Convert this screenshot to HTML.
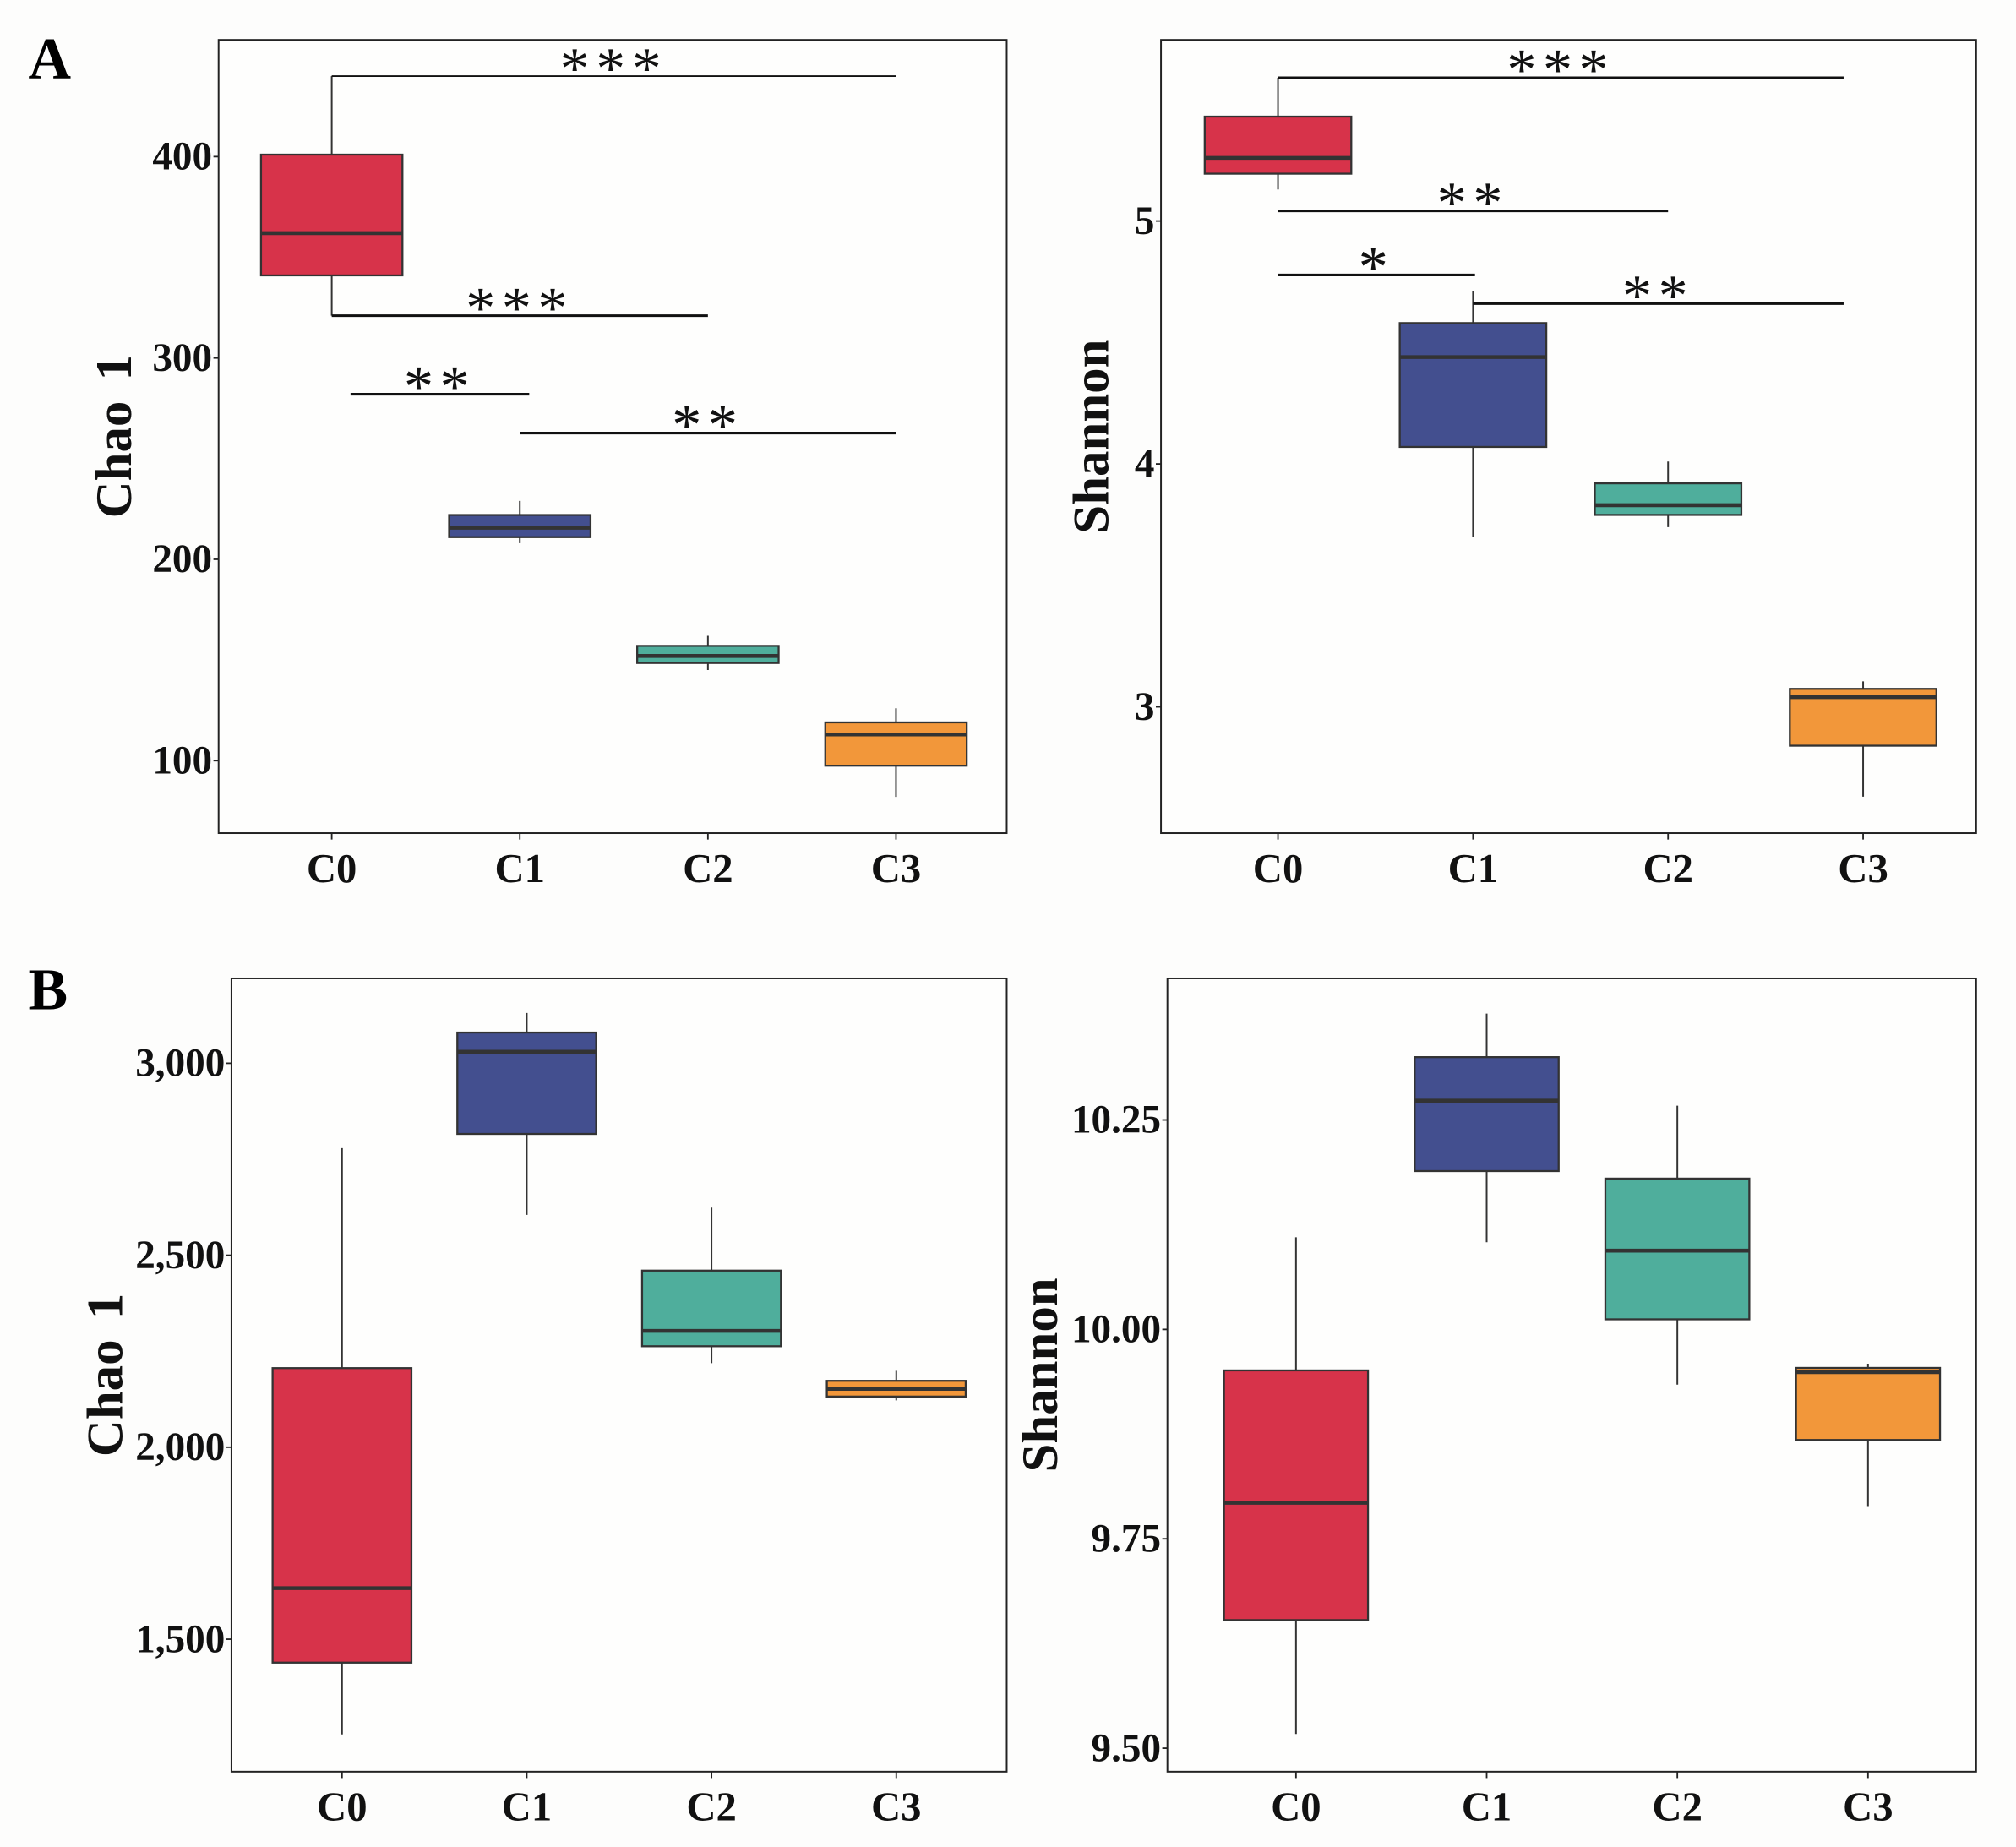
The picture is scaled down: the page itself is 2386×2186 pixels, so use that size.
<!DOCTYPE html>
<html><head><meta charset="utf-8"><style>
html,body{margin:0;padding:0;background:#fdfdfc;}
svg{display:block;font-family:"Liberation Serif",serif;}
</style></head>
<body>
<svg id="fig" width="2386" height="2186" viewBox="0 0 1568 1436.6" xmlns="http://www.w3.org/2000/svg">
<rect width="1568" height="1437" fill="#fdfdfc"/>
<text x="22" y="61" font-size="46" font-weight="bold">A</text>
<text x="22" y="785" font-size="46" font-weight="bold">B</text>
</svg>
<script>
const categories = ["C0","C1","C2","C3"];
const colors = ["#d7334a","#434f8f","#4fae9c","#f2973a"];
// A-left Chao1: [lowWhisker, q1, median, q3, highWhisker]
const aChaoLow = [321,208,145,82];
const aChaoQ1 = [341,211,148.5,97.5];
const aChaoMed = [362,215.7,152,113];
const aChaoQ3 = [401,222,157,119];
const aChaoHigh = [440,229,162,126];
const aChaoTicks = [100,200,300,400];
const aChaoSig = [[0,3,440,"***"],[0,2,321,"***"],[0.1,1.05,282,"**"],[1,3,262.7,"**"]];
// A-right Shannon
const aShLow = [5.13,3.70,3.74,2.63];
const aShQ1 = [5.195,4.07,3.79,2.84];
const aShMed = [5.26,4.44,3.83,3.04];
const aShQ3 = [5.43,4.58,3.92,3.074];
const aShHigh = [5.59,4.71,4.01,3.105];
const aShTicks = [3,4,5];
const aShSig = [[0,2.9,5.59,"***"],[0,2,5.042,"**"],[0,1.01,4.778,"*"],[1,2.9,4.66,"**"]];
// B-left Chao1
const bChaoLow = [1252,2605,2219,2122];
const bChaoQ1 = [1439,2816,2263,2132];
const bChaoMed = [1633,3030,2303,2152];
const bChaoQ3 = [2206,3080,2460,2173];
const bChaoHigh = [2779,3131,2624,2199];
const bChaoTicks = [1500,2000,2500,3000];
const bChaoTickLabels = ["1,500","2,000","2,500","3,000"];
// B-right Shannon
const bShLow = [9.517,10.104,9.934,9.788];
const bShQ1 = [9.653,10.189,10.012,9.868];
const bShMed = [9.793,10.273,10.094,9.949];
const bShQ3 = [9.951,10.325,10.180,9.954];
const bShHigh = [10.11,10.377,10.267,9.959];
const bShTicks = [9.5,9.75,10.0,10.25];
const bShTickLabels = ["9.50","9.75","10.00","10.25"];

const svg = document.getElementById('fig');
const NS = "http://www.w3.org/2000/svg";
function el(tag, attrs, parent){
  const e = document.createElementNS(NS, tag);
  for (const k in attrs) e.setAttribute(k, attrs[k]);
  (parent||svg).appendChild(e); return e;
}
function panel(p){
  const g = el('g', {});
  
  
  const y = v => p.y0 + (p.ymax - v) / (p.ymax - p.ymin) * (p.y1 - p.y0);
  const x = i => p.xs0 + i * p.step;
  const fr = el('rect', {x:p.x0, y:p.y0, width:p.x1-p.x0, height:p.y1-p.y0, fill:'#fefefd', stroke:'#222', 'stroke-width':1.3}, g);
  
  
  p.ticks.forEach((t,i)=>{
    const tk = el('line', {x1:p.x0-4, x2:p.x0, y1:y(t), y2:y(t), stroke:'#222', 'stroke-width':1.2}, g);
    
    
    const tl = el('text', {x:p.x0-5, y:y(t)+10, 'font-size':31, 'font-weight':'bold', 'text-anchor':'end', fill:'#111'}, g);
    
    
    tl.textContent = p.tickLabels ? p.tickLabels[i] : String(t);
  });
  const yt = el('text', {x:0, y:0, 'font-size':40, 'font-weight':'bold', 'text-anchor':'middle', fill:'#111', 'word-spacing':6,
    transform:`translate(${p.titleX},${(p.y0+p.y1)/2}) rotate(-90)`}, g);
  
  
  yt.textContent = p.title;
  categories.forEach((c,i)=>{
    const cx = x(i);
    const tk = el('line', {x1:cx, x2:cx, y1:p.y1, y2:p.y1+5, stroke:'#222', 'stroke-width':1.2}, g);
    
    
    const tl = el('text', {x:cx, y:p.y1+38, 'font-size':32, 'font-weight':'bold', 'text-anchor':'middle', fill:'#111'}, g);
    
    
    tl.textContent = c;
    const w = el('line', {x1:cx, x2:cx, y1:y(p.high[i]), y2:y(p.low[i]), stroke:'#333', 'stroke-width':1.3}, g);
    
    
    const b = el('rect', {x:cx-p.bw/2, y:y(p.q3[i]), width:p.bw, height:y(p.q1[i])-y(p.q3[i]), fill:colors[i], stroke:'#333', 'stroke-width':1.5}, g);
    
    
    const m = el('line', {x1:cx-p.bw/2, x2:cx+p.bw/2, y1:y(p.med[i]), y2:y(p.med[i]), stroke:'#333', 'stroke-width':3}, g);
    
    
  });
  (p.sig||[]).forEach((s,k)=>{
    const xa = x(s[0]), xb = x(s[1]), yy = y(s[2]);
    const l = el('line', {x1:xa, x2:xb, y1:yy, y2:yy, stroke:'#111', 'stroke-width': k===0&&p.thinFirst?1.2:2}, g);
    
    
    const t = el('text', {x:(xa+xb)/2, y:yy+9, 'font-size':46, 'text-anchor':'middle', 'letter-spacing':5, fill:'#111'}, g);
    
    
    t.textContent = s[3];
  });
}
panel({name:'panel-a-chao1', x0:170, x1:783, y0:31, y1:648, ymin:64, ymax:458, xs0:258, step:146.3, bw:110,
  ticks:aChaoTicks, title:'Chao 1', titleX:102, low:aChaoLow, q1:aChaoQ1, med:aChaoMed, q3:aChaoQ3, high:aChaoHigh, sig:aChaoSig, thinFirst:true});
panel({name:'panel-a-shannon', x0:903, x1:1537, y0:31, y1:648, ymin:2.48, ymax:5.746, xs0:994, step:151.7, bw:114,
  ticks:aShTicks, title:'Shannon', titleX:862, low:aShLow, q1:aShQ1, med:aShMed, q3:aShQ3, high:aShHigh, sig:aShSig});
panel({name:'panel-b-chao1', x0:180, x1:783, y0:761, y1:1378, ymin:1155, ymax:3221, xs0:266, step:143.7, bw:108,
  ticks:bChaoTicks, tickLabels:bChaoTickLabels, title:'Chao 1', titleX:95, low:bChaoLow, q1:bChaoQ1, med:bChaoMed, q3:bChaoQ3, high:bChaoHigh});
panel({name:'panel-b-shannon', x0:908, x1:1537, y0:761, y1:1378, ymin:9.472, ymax:10.419, xs0:1008, step:148.3, bw:112,
  ticks:bShTicks, tickLabels:bShTickLabels, title:'Shannon', titleX:822, low:bShLow, q1:bShQ1, med:bShMed, q3:bShQ3, high:bShHigh});
</script>
</body></html>
